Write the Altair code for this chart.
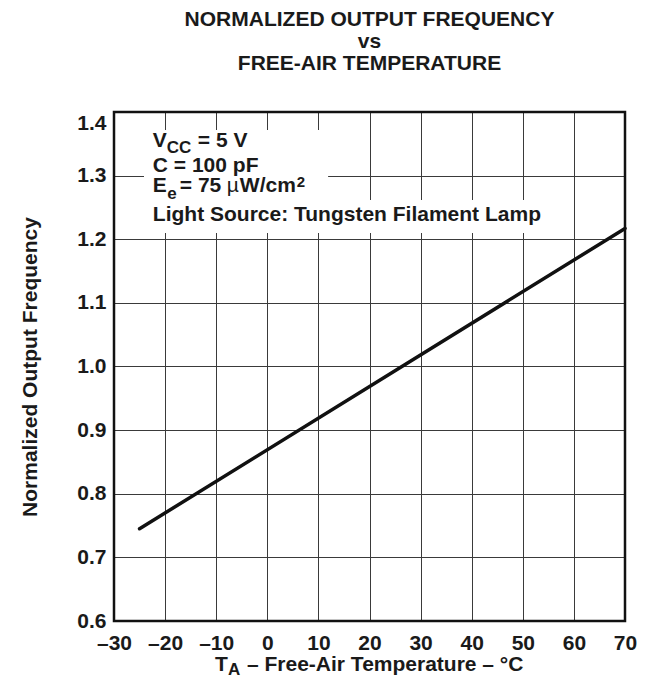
import altair as alt
import pandas as pd

# ---- data ----
temps = [-25, 70]
norm_freq = [0.745, 1.217]

x_ticks = [-30, -20, -10, 0, 10, 20, 30, 40, 50, 60, 70]
y_ticks = [0.6, 0.7, 0.8, 0.9, 1.0, 1.1, 1.2, 1.3, 1.4]

title_lines = ["NORMALIZED OUTPUT FREQUENCY", "vs", "FREE-AIR TEMPERATURE"]
y_title = "Normalized Output Frequency"

# annotation (legend box) lines: anchor temperature, baseline values
ann_x = -22.4
ann_line_y = [1.345, 1.3062, 1.2743, 1.2287]
# white background boxes behind the annotation (data units)
box_x1 = [-24.13, -24.13]
box_x2 = [11.9, 56.0]
box_y1 = [1.3717, 1.2617]
box_y2 = [1.2617, 1.2098]

FONT = "Liberation Sans"
FS = 21
INK = "#1a1a1a"
W, H = 511, 509

line_df = pd.DataFrame({"t": temps, "f": norm_freq})
box_df = pd.DataFrame({"x1": box_x1, "x2": box_x2, "y1": box_y1, "y2": box_y2})
frame_df = pd.DataFrame({"x1": [x_ticks[0]], "x2": [x_ticks[-1]], "y1": [y_ticks[0]], "y2": [y_ticks[-1]]})

xs = alt.Scale(domain=[x_ticks[0], x_ticks[-1]], nice=False, zero=False)
ys = alt.Scale(domain=[y_ticks[0], y_ticks[-1]], nice=False, zero=False)

x_axis = alt.Axis(
    values=x_ticks, grid=True, gridColor="#3a3a3a", gridWidth=1,
    domain=False, ticks=False, labelFont=FONT, labelFontSize=FS,
    labelFontWeight="bold", labelColor=INK, labelPadding=11, labelFlush=False,
    labelOverlap=False,
    labelExpr="datum.value < 0 ? '\u2013' + abs(datum.value) : datum.label",
    title=None,
)
y_axis = alt.Axis(
    values=y_ticks, grid=True, gridColor="#3a3a3a", gridWidth=1,
    domain=False, ticks=False, labelFont=FONT, labelFontSize=FS,
    labelFontWeight="bold", labelColor=INK, labelPadding=8, format=".1f",
    labelFlush=False, labelOverlap=False,
    labelBaseline={"condition": {"test": "datum.value > 1.39", "value": "top"}, "value": "middle"},
    title=y_title, titleFont=FONT, titleFontSize=FS, titleFontWeight="bold",
    titleColor=INK, titleX=-74, titleY=H / 2, titleBaseline="bottom", titleAngle=-90,
)

line = alt.Chart(line_df).mark_line(color="#111111", strokeWidth=3.5, strokeCap="round").encode(
    x=alt.X("t:Q", scale=xs, axis=x_axis),
    y=alt.Y("f:Q", scale=ys, axis=y_axis),
)

boxes = alt.Chart(box_df).mark_rect(fill="white").encode(
    x=alt.X("x1:Q", scale=xs), x2="x2:Q",
    y=alt.Y("y1:Q", scale=ys), y2="y2:Q",
)

frame = alt.Chart(frame_df).mark_rect(fill=None, stroke="#111111", strokeWidth=2.5).encode(
    x=alt.X("x1:Q", scale=xs), x2="x2:Q",
    y=alt.Y("y1:Q", scale=ys), y2="y2:Q",
)


def txt(text, yv, size=FS, dx=0, dy=0, weight="bold"):
    df = pd.DataFrame({"x": [ann_x], "y": [yv], "label": [text]})
    return alt.Chart(df).mark_text(
        align="left", baseline="alphabetic", font=FONT, fontWeight=weight,
        fontSize=size, color=INK, dx=dx, dy=dy,
    ).encode(x=alt.X("x:Q", scale=xs), y=alt.Y("y:Q", scale=ys), text="label:N")


ann = [
    txt("V", ann_line_y[0]),
    txt("CC", ann_line_y[0], size=17, dx=14, dy=6),
    txt("= 5 V", ann_line_y[0], dx=45),
    txt("C = 100 pF", ann_line_y[1]),
    txt("E", ann_line_y[2]),
    txt("e", ann_line_y[2], size=17, dx=14.5, dy=7),
    txt("= 75", ann_line_y[2], dx=27),
    txt("\u00b5", ann_line_y[2], dx=74, weight="normal"),
    txt("W/cm", ann_line_y[2], dx=87),
    txt("2", ann_line_y[2], size=15, dx=144, dy=-5),
    txt("Light Source: Tungsten Filament Lamp", ann_line_y[3]),
]


def xtitle(text, px, py, size=FS):
    return alt.Chart(pd.DataFrame({"label": [text]})).mark_text(
        align="left", baseline="alphabetic", font=FONT, fontWeight="bold",
        fontSize=size, color=INK,
    ).encode(x=alt.value(px), y=alt.value(py), text="label:N")


xt = [
    xtitle("T", 101, 559),
    xtitle("A", 114, 563, size=17),
    xtitle("\u2013 Free-Air Temperature \u2013 \u00b0C", 133, 559),
]

chart = alt.layer(boxes, line, *ann, *xt, frame).properties(
    width=W, height=H,
    title=alt.TitleParams(
        text=title_lines, font=FONT, fontSize=FS, fontWeight="bold", color=INK,
        lineHeight=22, anchor="middle", offset=37,
    ),
    autosize=alt.AutoSizeParams(type="none"),
    padding={"left": 106, "top": 104, "right": 12, "bottom": 56},
).configure_view(stroke=None)

chart.save("out.html", embed_options={"renderer": "svg", "actions": False})
